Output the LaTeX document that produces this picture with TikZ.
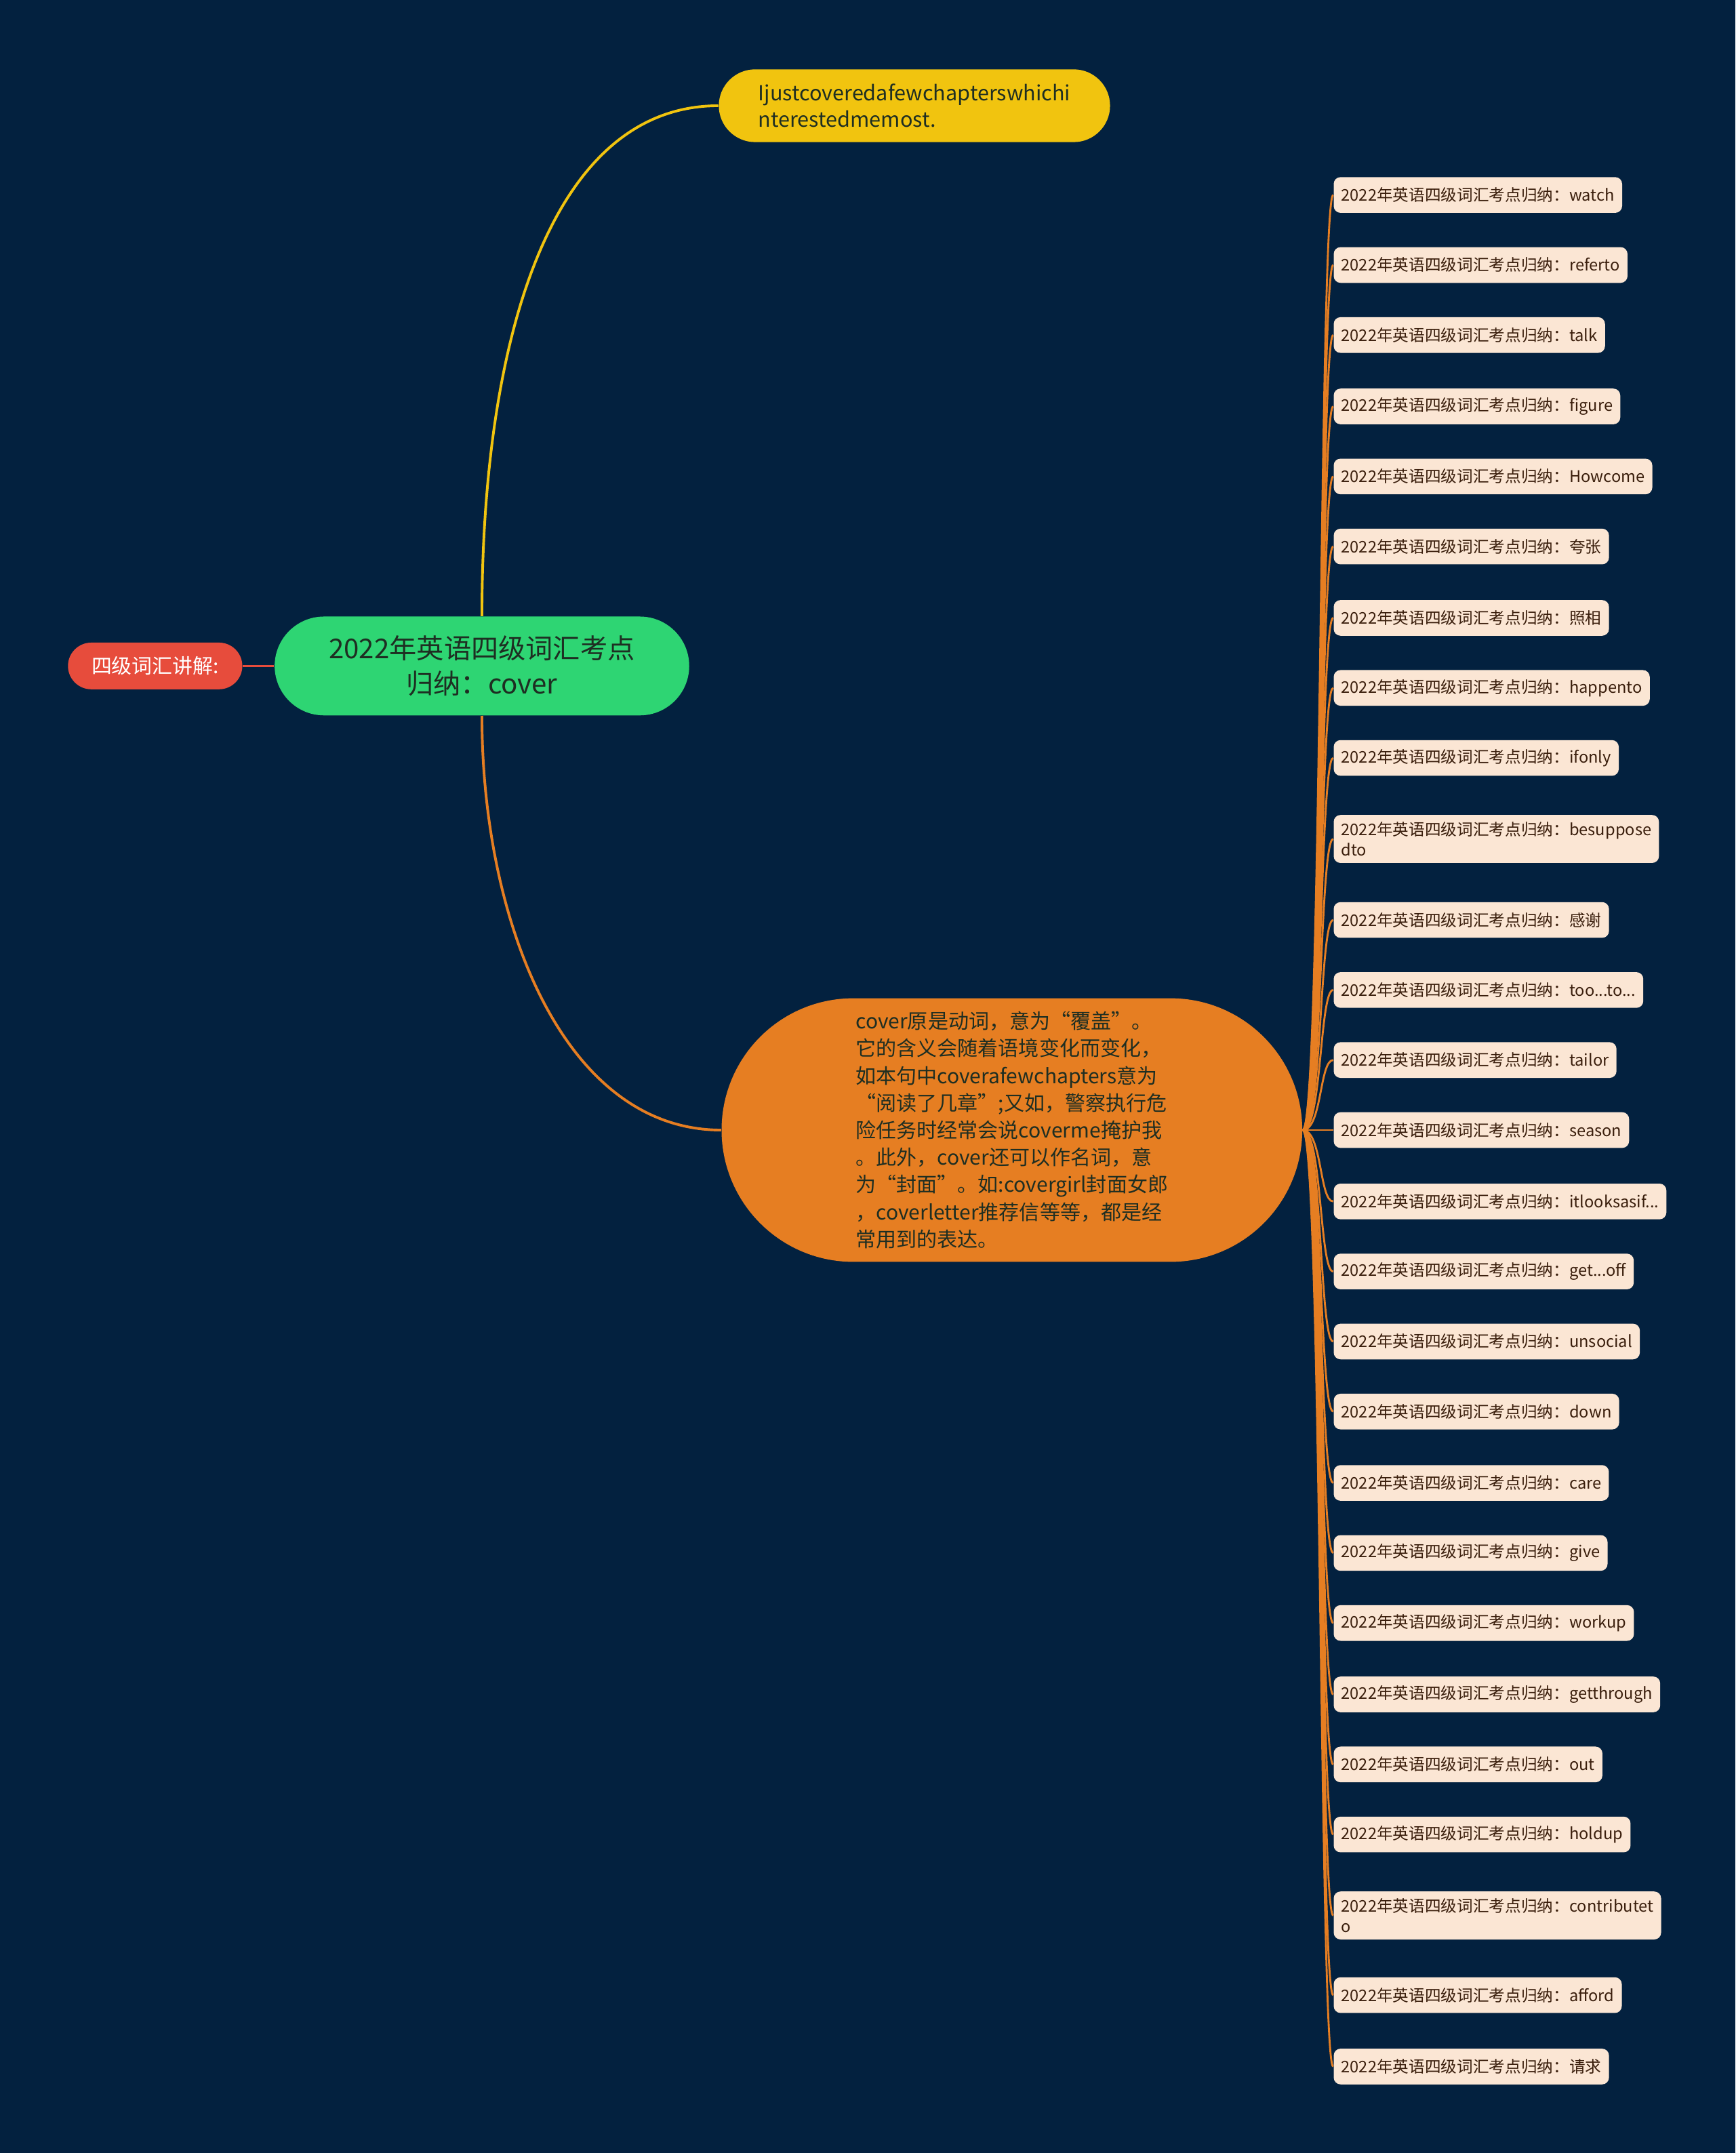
\documentclass[tikz,border=0pt]{standalone}
\usepackage{fontspec}
\setmainfont{Noto Sans CJK SC}
\usepackage{tikz}
\usetikzlibrary{positioning}
\definecolor{navybg}{HTML}{03213F}
\definecolor{tagred}{HTML}{E74C3C}
\definecolor{kwgreen}{HTML}{2ED573}
\definecolor{sentyellow}{HTML}{F1C40F}
\definecolor{noteorange}{HTML}{E67E22}
\definecolor{leafbg}{HTML}{FBE6D4}
\definecolor{leaftext}{HTML}{3A1E0C}
\definecolor{darktext}{HTML}{1E2E22}
\newcommand{\tdots}{...}
\tikzset{
  tagnode/.style={fill=tagred, text=white, rounded corners=0.34cm,
    minimum width=2.54cm, minimum height=0.68cm, inner sep=0pt,
    font=\fontsize{8.4}{10}\selectfont},
  kwnode/.style={fill=kwgreen, text=darktext, rounded corners=0.72cm,
    minimum width=6.04cm, minimum height=1.44cm, inner sep=0pt, align=center,
    font=\fontsize{11.3}{14.7}\selectfont},
  sentnode/.style={fill=sentyellow, text=darktext, rounded corners=0.53cm,
    minimum width=5.7cm, minimum height=1.06cm, inner sep=0pt, align=left,
    font=\fontsize{8.6}{11}\selectfont},
  notenode/.style={fill=noteorange, text=darktext, rounded corners=1.92cm,
    minimum width=8.46cm, minimum height=3.84cm, inner sep=0pt, align=left,
    font=\fontsize{8.45}{11.3}\selectfont},
  leafnode/.style={fill=leafbg, text=leaftext, rounded corners=0.1cm,
    anchor=west, align=left, inner xsep=0.11cm, inner ysep=0.1cm,
    minimum height=0.52cm, font=\fontsize{6.65}{8.5}\selectfont},
  leafline/.style={draw=noteorange, line width=0.8pt},
}
\begin{document}
\begin{tikzpicture}[x=0.02cm, y=-0.02cm]
  \fill[navybg] (0,0) rectangle (1264,1568);%
  \useasboundingbox (0,0) rectangle (1264,1568);%
  % centre, its label and its two children
  \node[kwnode] (kw) at (351,485) {2022年英语四级词汇考点\\归纳：cover};%
  \node[tagnode] (tag) at (113,485) {四级词汇讲解:};%
  \node[sentnode] (sent) at (666,77) {Ijustcoveredafewchapterswhichi\\nterestedmemost.};%
  \node[notenode] (note) at (737,823) {cover原是动词，意为“覆盖”。\\
    它的含义会随着语境变化而变化，\\
    如本句中coverafewchapters意为\\
    “阅读了几章”;又如，警察执行危\\
    险任务时经常会说coverme掩护我\\
    。此外，cover还可以作名词，意\\
    为“封面”。如:covergirl封面女郎\\
    ，coverletter推荐信等等，都是经\\
    常用到的表达。};%
  \draw[tagred, line width=1pt] (tag.east) -- (kw.west);%
  \draw[sentyellow, line width=1.1pt] (kw.north) .. controls (351,250) and (400,77) .. (sent.west);%
  \draw[noteorange, line width=1.1pt] (kw.south) .. controls (351,670) and (410,823) .. (note.west);%
  % leaves
  \foreach \y/\t [count=\i] in {142/watch, 193/referto, 244/talk, 296/figure,
      347/Howcome, 398/夸张, 450/照相, 501/happento, 552/ifonly,
      611/{besuppose\\dto}, 670/感谢, 721/{too\tdots{}to\tdots}, 772/tailor,
      823/season, 875/{itlooksasif\tdots}, 926/{get\tdots{}off}, 977/unsocial,
      1028/down, 1080/care, 1131/give, 1182/workup, 1234/getthrough, 1285/out,
      1336/holdup, 1395/{contributet\\o}, 1453/afford, 1505/请求}{
    \node[leafnode] (leaf\i) at (971,\y) {2022年英语四级词汇考点归纳：\t};%
    \draw[leafline] (note.east) .. controls +(14,0) and +(-10,0) .. (leaf\i.west);%
  }
\end{tikzpicture}
\end{document}
